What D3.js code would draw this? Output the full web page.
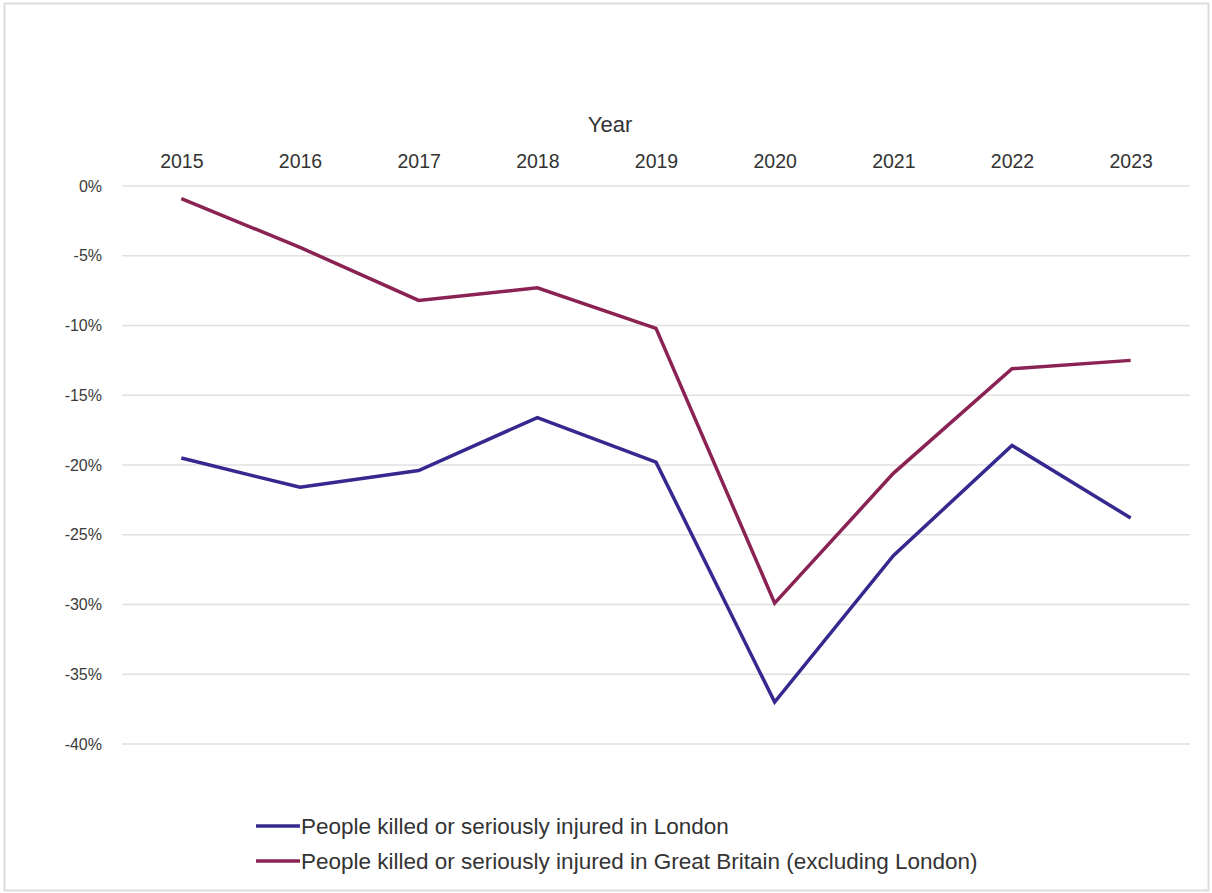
<!DOCTYPE html>
<html>
<head>
<meta charset="utf-8">
<script src="https://cdn.jsdelivr.net/npm/d3@7"></script>
<style>
  body { margin: 0; background: #fff; }
  svg { display: block; font-family: "Liberation Sans", Arial, sans-serif; }
</style>
</head>
<body>
<script>
// data
var years = ["2015", "2016", "2017", "2018", "2019", "2020", "2021", "2022", "2023"];
var london = [-19.5, -21.6, -20.4, -16.6, -19.8, -37.0, -26.5, -18.6, -23.8];
var gbExLondon = [-0.9, -4.4, -8.2, -7.3, -10.2, -29.9, -20.6, -13.1, -12.5];
var yTicks = [0, -5, -10, -15, -20, -25, -30, -35, -40];
var seriesNames = ["People killed or seriously injured in London",
                   "People killed or seriously injured in Great Britain (excluding London)"];
var seriesColors = ["#35288e", "#8a2254"];

var width = 1212, height = 893;
var plotLeft = 122, plotRight = 1190, plotTop = 186, plotBottom = 744;

var svg = d3.select("body").append("svg")
    .attr("width", width)
    .attr("height", height);

// outer frame
svg.append("rect")
    .attr("x", 4.5).attr("y", 3.5)
    .attr("width", 1204).attr("height", 887)
    .attr("fill", "#fff")
    .attr("stroke", "#dcdcdc")
    .attr("stroke-width", 2);

var x = d3.scalePoint()
    .domain(years)
    .range([plotLeft, plotRight])
    .padding(0.5);

var y = d3.scaleLinear()
    .domain([0, -40])
    .range([plotTop, plotBottom]);

// gridlines
svg.append("g")
    .selectAll("line")
    .data(yTicks)
    .enter()
        .append("line")
        .attr("x1", plotLeft)
        .attr("x2", plotRight)
        .attr("y1", d => y(d))
        .attr("y2", d => y(d))
        .attr("stroke", "#e0e0e0")
        .attr("stroke-width", 1.3);

// y axis labels
var yAxis = d3.axisLeft(y)
    .tickValues(yTicks)
    .tickSize(0)
    .tickPadding(20)
    .tickFormat(d => d + "%");

svg.append("g")
    .attr("transform", "translate(" + plotLeft + ",0)")
    .call(yAxis)
    .call(g => g.select(".domain").remove())
    .selectAll("text")
        .attr("font-size", 16)
        .attr("font-family", "Liberation Sans, Arial, sans-serif")
        .attr("fill", "#3a3a3a");

// x axis on top
var xAxis = d3.axisTop(x)
    .tickSize(0)
    .tickPadding(0);

svg.append("g")
    .attr("transform", "translate(0,168)")
    .call(xAxis)
    .call(g => g.select(".domain").remove())
    .selectAll("text")
        .attr("font-size", 19.5)
        .attr("fill", "#333")
        .attr("font-family", "Liberation Sans, Arial, sans-serif");

svg.append("text")
    .attr("x", 610)
    .attr("y", 132)
    .attr("text-anchor", "middle")
    .attr("font-size", 22)
    .attr("fill", "#333")
    .text("Year");

// lines
var line = d3.line()
    .x((d, i) => x(years[i]))
    .y(d => y(d));

[london, gbExLondon].forEach((s, k) => {
    svg.append("path")
        .datum(s)
        .attr("d", line)
        .attr("fill", "none")
        .attr("stroke", seriesColors[k])
        .attr("stroke-width", 3.5)
        .attr("stroke-linejoin", "miter");
});

// legend
var legend = svg.append("g")
    .selectAll("g")
    .data(seriesNames)
    .enter()
        .append("g")
        .attr("transform", (d, i) => "translate(256," + (826 + i * 35) + ")");

legend.append("line")
    .attr("x1", 0).attr("x2", 44)
    .attr("y1", 0).attr("y2", 0)
    .attr("stroke", (d, i) => seriesColors[i])
    .attr("stroke-width", 3.5);

legend.append("text")
    .attr("x", 45)
    .attr("y", 8)
    .attr("font-size", 22.5)
    .attr("fill", "#333")
    .text(d => d);
</script>
</body>
</html>
